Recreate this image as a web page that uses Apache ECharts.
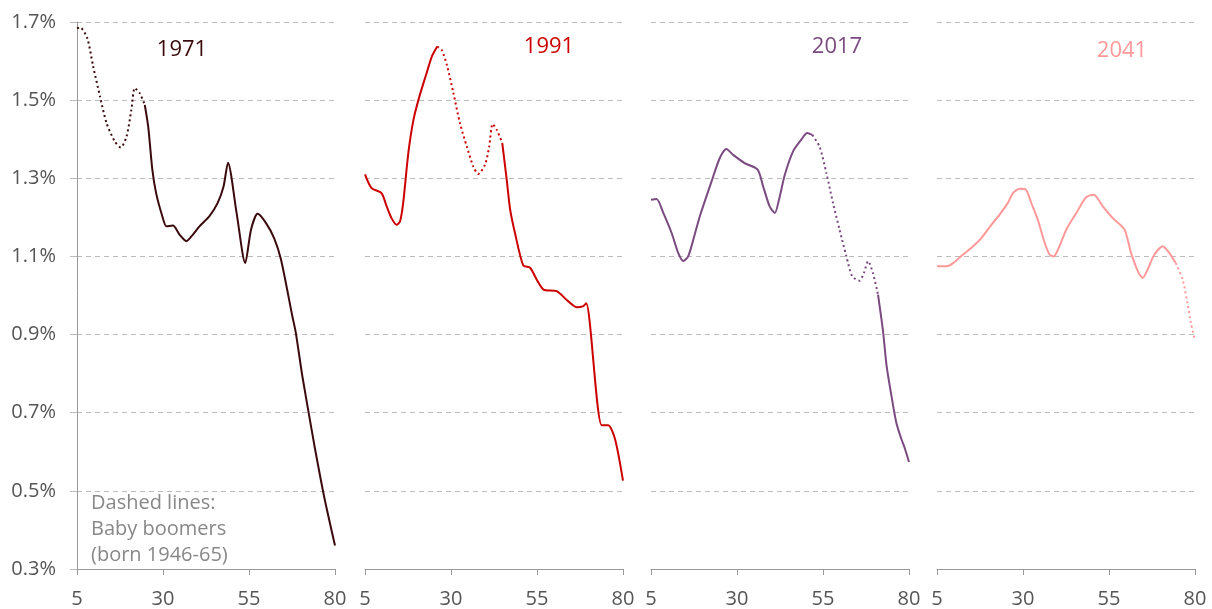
<!DOCTYPE html>
<html>
<head>
<meta charset="utf-8">
<title>Age distribution by year</title>
<script src="https://cdn.jsdelivr.net/npm/echarts@6/dist/echarts.min.js"></script>
<style>
  html, body { margin: 0; padding: 0; background: #fff; }
  #chart { width: 1212px; height: 609px; }
</style>
</head>
<body>
<div id="chart"></div>
<script>
// share of population (%) by single year of age
const ages1971 = [5, 5.9, 8, 9.7, 11.7, 13.6, 16, 17.7, 19.4, 20.8, 21.8, 23.2, 24.7, 25.7, 26.9, 28, 29.8, 31, 32.9, 34.8, 36.8, 38.7, 40.6, 43.5, 45.9, 47.6, 48.9, 51.4, 53.9, 55.6, 57.5, 59.9, 62.3, 64.3, 67.6, 68.6, 70.5, 72.5, 74.2, 76.8, 80]
const share1971 = [1.684, 1.686, 1.658, 1.586, 1.509, 1.441, 1.394, 1.379, 1.407, 1.475, 1.531, 1.518, 1.488, 1.432, 1.322, 1.262, 1.203, 1.177, 1.179, 1.156, 1.139, 1.156, 1.177, 1.203, 1.237, 1.279, 1.34, 1.211, 1.083, 1.169, 1.209, 1.186, 1.147, 1.092, 0.947, 0.905, 0.794, 0.692, 0.607, 0.487, 0.36]

const ages1991 = [5, 6.9, 9.8, 11.3, 12.7, 14.2, 15.2, 16.1, 17.6, 19.1, 20.8, 22.9, 24.4, 26, 27.3, 28.8, 30.7, 32.6, 34.6, 36.5, 37.9, 39.9, 41.1, 42.1, 43.3, 44.9, 46.2, 47.2, 48.6, 51, 53, 54.9, 56.9, 60.7, 64.1, 66.6, 68.5, 69.3, 73.8, 75.7, 77.7, 80]
const share1991 = [1.31, 1.275, 1.262, 1.228, 1.198, 1.181, 1.19, 1.237, 1.365, 1.45, 1.509, 1.569, 1.611, 1.637, 1.628, 1.59, 1.518, 1.441, 1.381, 1.33, 1.311, 1.335, 1.381, 1.439, 1.424, 1.39, 1.296, 1.22, 1.16, 1.077, 1.071, 1.041, 1.015, 1.011, 0.985, 0.97, 0.973, 0.98, 0.668, 0.668, 0.632, 0.526]

const ages2017 = [5, 6.6, 8.6, 11, 12.9, 14.4, 15.8, 17.3, 19.2, 22.6, 25, 26.9, 28.9, 32.2, 36, 37.6, 39.5, 41, 42.2, 43.9, 46.3, 48.7, 50.4, 51.9, 54, 56, 57.9, 59.8, 61.8, 63.5, 65.6, 66.9, 68.1, 69.5, 71, 72, 72.5, 73.5, 74.9, 76.3, 77.8, 78.7, 80]
const share2017 = [1.245, 1.247, 1.211, 1.16, 1.109, 1.088, 1.1, 1.143, 1.203, 1.292, 1.352, 1.375, 1.36, 1.339, 1.322, 1.279, 1.228, 1.211, 1.245, 1.309, 1.369, 1.399, 1.416, 1.411, 1.381, 1.313, 1.237, 1.169, 1.1, 1.049, 1.038, 1.058, 1.088, 1.058, 1.002, 0.939, 0.905, 0.819, 0.743, 0.675, 0.632, 0.611, 0.574]

const ages2041 = [5, 7.8, 9.7, 12.6, 15.5, 17.9, 20.8, 23.2, 25.6, 27.1, 29, 30.8, 32.4, 34.3, 36.3, 37.7, 38.9, 40.4, 42.6, 45.5, 48.4, 50.6, 53.2, 56.1, 59.5, 61.4, 63.6, 64.8, 66.2, 68.2, 70.6, 72.5, 74.4, 76.4, 77.8, 78.8, 80]
const share2041 = [1.075, 1.075, 1.083, 1.105, 1.126, 1.147, 1.181, 1.207, 1.237, 1.262, 1.273, 1.271, 1.237, 1.194, 1.135, 1.105, 1.1, 1.122, 1.169, 1.211, 1.252, 1.258, 1.228, 1.198, 1.169, 1.109, 1.058, 1.045, 1.066, 1.105, 1.126, 1.109, 1.083, 1.041, 0.981, 0.93, 0.885]

// age span drawn dotted (baby boomers) in each year
const boomers1971 = [5, 24.7]
const boomers1991 = [26, 44.9]
const boomers2017 = [51.9, 71]
const boomers2041 = [74.4, 80]

const years = ['1971', '1991', '2017', '2041']
const xTicks = [5, 80, 25]          // min, max, step
const yTicks = [0.3, 1.7, 0.2]

const panels = [
  { ages: ages1971, share: share1971, boom: boomers1971, color: '#3a0a0c' },
  { ages: ages1991, share: share1991, boom: boomers1991, color: '#cc0000' },
  { ages: ages2017, share: share2017, boom: boomers2017, color: '#7a4a80' },
  { ages: ages2041, share: share2041, boom: boomers2041, color: '#ff9999' }
]

const FONT = "'Open Sans', 'DejaVu Sans', sans-serif"
const lefts = [77, 365, 651, 937]
const labelPos = [[182, 50], [549, 47], [837, 47], [1122, 51]]

// solid part keeps a gap where the dotted part is
const splitParts = (p) => {
  const solid = []
  const dotted = []
  const [lo, hi] = p.boom
  const first = p.ages[0]
  const last = p.ages[p.ages.length - 1]
  let afterStarted = false
  p.ages.forEach((a, i) => {
    const v = p.share[i]
    if (a >= lo && a <= hi) dotted.push([a, v])
    const before = lo > first && a <= lo
    const after = hi < last && a >= hi
    if (after && !afterStarted) {
      if (solid.length) solid.push([(lo + hi) / 2, '-'])
      afterStarted = true
    }
    if (before || after) solid.push([a, v])
  })
  return { solid, dotted }
}

const grid = []
const xAxis = []
const yAxis = []
const series = []
const graphic = []

panels.forEach((p, i) => {
  grid.push({ left: lefts[i], top: 22, width: 258, height: 548 })
  xAxis.push({
    type: 'value',
    gridIndex: i,
    min: xTicks[0],
    max: xTicks[1],
    interval: xTicks[2],
    axisLine: { show: true, lineStyle: { color: '#999', width: 1 } },
    axisTick: { show: true, length: 6, lineStyle: { color: '#999' } },
    axisLabel: { color: '#555', fontSize: 20, fontFamily: FONT, margin: 20 },
    splitLine: { show: false }
  })
  yAxis.push({
    type: 'value',
    gridIndex: i,
    min: yTicks[0],
    max: yTicks[1],
    interval: yTicks[2],
    axisLine: { show: i === 0, lineStyle: { color: '#999', width: 1 } },
    axisTick: { show: i === 0, length: 7, lineStyle: { color: '#bbb' } },
    axisLabel: {
      show: i === 0,
      color: '#555',
      fontSize: 20,
      fontFamily: FONT,
      margin: 21,
      formatter: (v) => v.toFixed(1) + '%'
    },
    splitLine: { show: true, lineStyle: { color: '#bbb', type: [5, 4], width: 1 } }
  })

  const parts = splitParts(p)
  series.push({
    type: 'line',
    xAxisIndex: i,
    yAxisIndex: i,
    data: parts.solid,
    smooth: 0.25,
    showSymbol: false,
    connectNulls: false,
    lineStyle: { color: p.color, width: 2 },
    silent: true
  })
  series.push({
    type: 'line',
    xAxisIndex: i,
    yAxisIndex: i,
    data: parts.dotted,
    smooth: 0.25,
    showSymbol: false,
    lineStyle: { color: p.color, width: 2, type: [2, 3] },
    silent: true
  })

  graphic.push({
    type: 'text',
    x: labelPos[i][0],
    y: labelPos[i][1],
    style: {
      text: years[i],
      fill: p.color,
      fontSize: 22,
      fontFamily: FONT,
      align: 'center',
      verticalAlign: 'middle'
    }
  })
})

graphic.push({
  type: 'text',
  x: 91,
  y: 490,
  style: {
    text: 'Dashed lines:\nBaby boomers\n(born 1946-65)',
    fill: '#888',
    fontSize: 20,
    lineHeight: 26,
    fontFamily: FONT,
    align: 'left',
    verticalAlign: 'top'
  }
})

const chart = echarts.init(document.getElementById('chart'), null, { renderer: 'canvas' })
chart.setOption({
  animation: false,
  backgroundColor: '#fff',
  grid,
  xAxis,
  yAxis,
  series,
  graphic
})
</script>
</body>
</html>
